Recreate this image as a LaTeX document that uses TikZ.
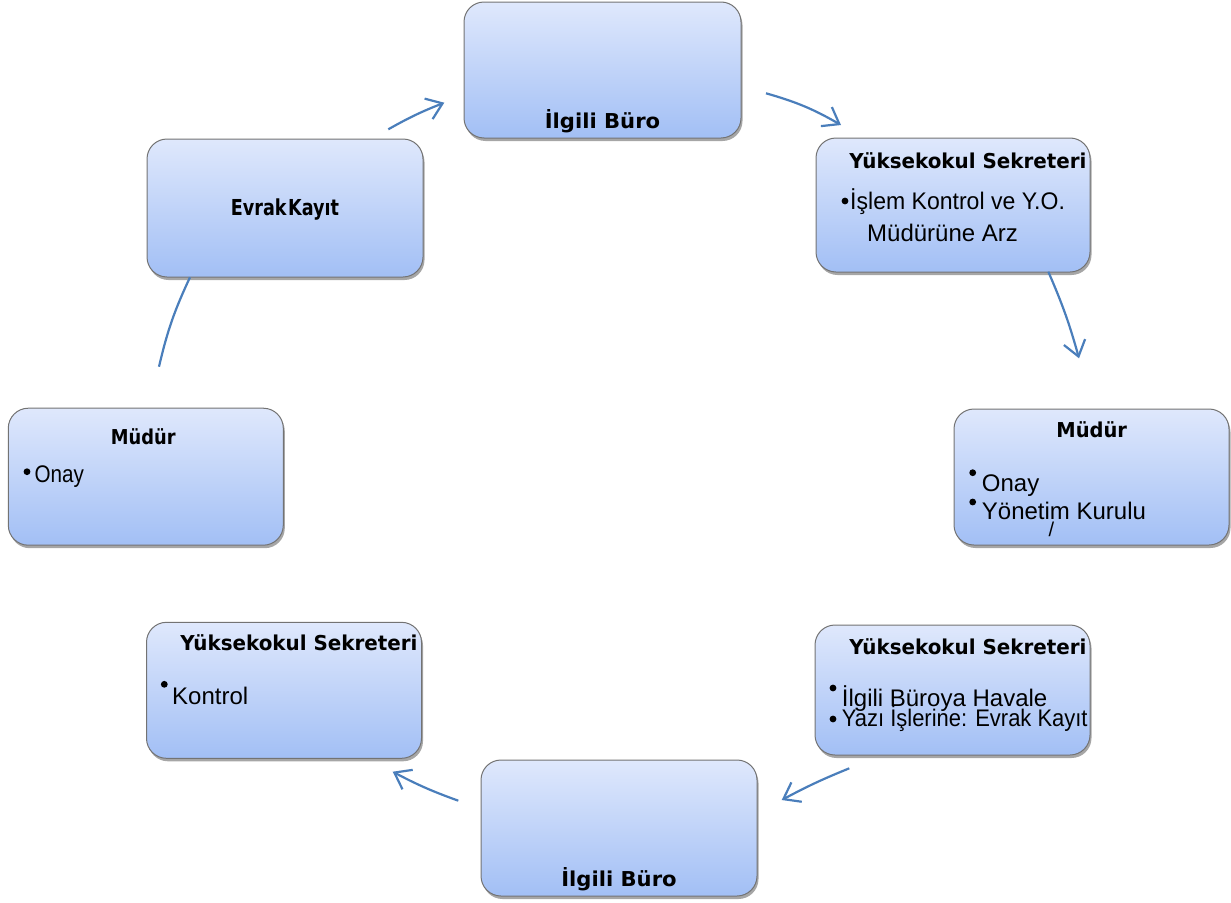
\documentclass[tikz,border=0pt]{standalone}
\usepackage{fontspec}
\setmainfont{Liberation Sans}
\newfontfamily\tfont{DejaVu Sans}
\usetikzlibrary{arrows.meta,shadows}
\definecolor{arr}{RGB}{74,126,187}
\definecolor{boxtop}{RGB}{223,232,252}
\definecolor{boxbot}{RGB}{162,191,245}
\definecolor{boxline}{RGB}{115,115,115}
\newcommand{\sx}[2]{\scalebox{#1}[1]{#2}}
\tikzset{
 card/.style={draw=boxline, line width=1pt, rounded corners=20pt, top color=boxtop, bottom color=boxbot,
   drop shadow={shadow xshift=1.5pt, shadow yshift=-3pt, opacity=0.35, fill=black}, inner sep=0pt},
 ttl/.style={anchor=base, inner sep=0pt, font=\tfont\bfseries\fontsize{20.5}{24}\selectfont},
 txt/.style={anchor=base west, inner sep=0pt, font=\fontsize{24}{28}\selectfont},
 dot/.style={circle, fill=black, inner sep=0pt, minimum size=6.8pt},
 flow/.style={draw=arr, line width=2.2pt, -{Straight Barb[length=15pt,width=22pt]}},
 link/.style={draw=arr, line width=2.2pt},
}
\begin{document}
\begin{tikzpicture}[x=1pt,y=-1pt]
\useasboundingbox (0,0) rectangle (1231,902);
% boxes
\node[card, minimum width=277pt, minimum height=136pt] (b1) at (602.5,70) {};
\node[card, minimum width=274pt, minimum height=134pt] (b2) at (953,205) {};
\node[card, minimum width=275pt, minimum height=136pt] (b3) at (1091.5,477) {};
\node[card, minimum width=275pt, minimum height=130pt] (b4) at (952.5,690) {};
\node[card, minimum width=276pt, minimum height=136pt] (b5) at (619,828) {};
\node[card, minimum width=275pt, minimum height=136pt] (b6) at (284,690.3) {};
\node[card, minimum width=275pt, minimum height=137pt] (b7) at (145.8,476.7) {};
\node[card, minimum width=276pt, minimum height=138pt] (b8) at (285,208) {};
% box 1
\node[ttl] (t1) at (602.5,128) {\sx{1.03}{İlgili Büro}};
% box 2
\node[ttl] (t2) at (968,168) {\sx{0.97}{Yüksekokul Sekreteri}};
\node[dot] (d2) at (845,201) {};
\node[txt] (t2a) at (850,209) {\sx{0.96}{İşlem Kontrol ve Y.O.}};
\node[txt] (t2b) at (867,241) {Müdürüne Arz};
% box 3
\node[ttl] (t3) at (1091.7,437) {\sx{0.95}{Müdür}};
\node[dot] (d3a) at (972.7,472.7) {};
\node[txt] (t3a) at (981.7,491) {Onay};
\node[dot] (d3b) at (972.7,502) {};
\node[txt] (t3b) at (981.7,519) {Yönetim Kurulu};
\node[inner sep=0pt, font=\fontsize{20}{24}\selectfont] (t3c) at (1051.5,529) {/};
% box 4
\node[ttl] (t4) at (968,654) {\sx{0.97}{Yüksekokul Sekreteri}};
\node[dot] (d4a) at (833,688) {};
\node[txt] (t4a) at (841.7,706) {İlgili Büroya Havale};
\node[dot] (d4b) at (833,719) {};
\node[txt] (t4b) at (841.7,726) {\sx{0.915}{Yazı İşlerine: Evrak Kayıt}};
% box 5
\node[ttl] (t5) at (619,886) {\sx{1.03}{İlgili Büro}};
% box 6
\node[ttl] (t6) at (299,650) {\sx{0.97}{Yüksekokul Sekreteri}};
\node[dot] (d6) at (164.3,684.3) {};
\node[txt] (t6a) at (172,704) {Kontrol};
% box 7
\node[ttl] (t7) at (143.3,444) {\sx{0.87}{Müdür}};
\node[dot] (d7) at (27,471.7) {};
\node[txt] (t7a) at (34.3,482) {\sx{0.86}{Onay}};
% box 8
\node[ttl, font=\tfont\bfseries\fontsize{22}{26}\selectfont] (t8) at (285,215) {\sx{0.8}{Evrak\hspace{2pt}Kayıt}};
% connectors
\coordinate (a1s) at (388.3,129.3); \coordinate (a1e) at (444.3,102.7);
\coordinate (a2s) at (766,93.3);    \coordinate (a2e) at (841,125);
\coordinate (a3s) at (1048.3,271.7);\coordinate (a3e) at (1079,358.3);
\coordinate (a4s) at (849.3,768.3); \coordinate (a4e) at (781.7,800);
\coordinate (a5s) at (458.3,800.7); \coordinate (a5e) at (392.7,771.7);
\coordinate (a6s) at (190,277.3);   \coordinate (a6e) at (159,366.7);
\draw[flow] (a1s) to[bend left=4] (a1e);
\draw[flow] (a2s) to[bend left=7] (a2e);
\draw[flow] (a3s) to[bend left=4] (a3e);
\draw[flow] (a4s) to[bend right=3] (a4e);
\draw[flow] (a5s) to[bend left=4] (a5e);
\draw[link] (a6s) to[bend right=6] (a6e);
\end{tikzpicture}
\end{document}
